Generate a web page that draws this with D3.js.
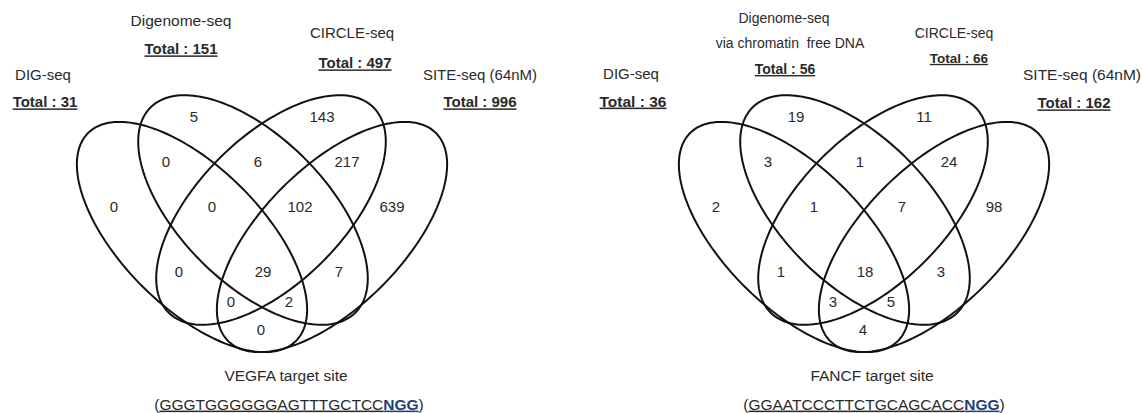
<!DOCTYPE html>
<html>
<head>
<meta charset="utf-8">
<script src="https://cdn.jsdelivr.net/npm/d3@7"></script>
<style>
body { margin: 0; background: #fff; }
svg text { font-family: "Liberation Sans", Arial, sans-serif; fill: #2a2a2a; white-space: pre; }
</style>
</head>
<body>
<svg id="chart" width="1142" height="413"></svg>
<script>
// regions of the 4-set venn, A=DIG-seq, B=Digenome-seq, C=CIRCLE-seq, D=SITE-seq
var regions = ['A', 'B', 'C', 'D', 'AB', 'BC', 'CD', 'ABC', 'BCD', 'AC', 'ABCD', 'BD', 'ACD', 'ABD', 'AD'];

var vegfa_counts = [0, 5, 143, 639, 0, 6, 217, 0, 102, 0, 29, 7, 0, 2, 0];
var fancf_counts = [2, 19, 11, 98, 3, 1, 24, 1, 7, 1, 18, 3, 3, 5, 4];

var vegfa_names = [['DIG-seq'], ['Digenome-seq'], ['CIRCLE-seq'], ['SITE-seq (64nM)']];
var fancf_names = [['DIG-seq'], ['Digenome-seq', 'via chromatin  free DNA'], ['CIRCLE-seq'], ['SITE-seq (64nM)']];

var vegfa_totals = [31, 151, 497, 996];
var fancf_totals = [36, 56, 66, 162];

var vegfa_site = ['VEGFA target site', 'GGGTGGGGGGAGTTTGCTCC', 'NGG'];
var fancf_site = ['FANCF target site', 'GGAATCCCTTCTGCAGCACC', 'NGG'];

// layout (venn units, 1 unit = 200px, origin = diagram centre)
var ellipses = [
	{cx: -0.35, cy: 0.035, a: 0.735, b: 0.35, rot: 45},
	{cx: -0.045, cy: -0.1, a: 0.725, b: 0.365, rot: 45},
	{cx: 0.045, cy: -0.1, a: 0.725, b: 0.365, rot: -45},
	{cx: 0.35, cy: 0.035, a: 0.735, b: 0.35, rot: -45}
];
var label_pos = {
	A: [-0.74, -0.115], B: [-0.34, -0.565], C: [0.30, -0.565], D: [0.65, -0.115],
	AB: [-0.48, -0.34], BC: [-0.02, -0.34], CD: [0.425, -0.34],
	ABC: [-0.25, -0.115], BCD: [0.19, -0.115],
	AC: [-0.415, 0.21], ABCD: [0.005, 0.21], BD: [0.385, 0.21],
	ACD: [-0.155, 0.36], ABD: [0.135, 0.36], AD: [-0.005, 0.50]
};

var svg = d3.select('#chart');

var charts = [
	{
		center: 262, counts: vegfa_counts, names: vegfa_names, totals: vegfa_totals, site: vegfa_site,
		name_pos: [[[-219, 75]], [[-81, 20]], [[90, 33]], [[218, 75]]],
		total_pos: [[-217, 102], [-81, 49], [93, 63], [218, 102]],
		name_size: [15, 15.5, 15, 15], total_size: [15, 15, 15, 15],
		site_dx: [24, 27]
	},
	{
		center: 864, counts: fancf_counts, names: fancf_names, totals: fancf_totals, site: fancf_site,
		name_pos: [[[-233, 74]], [[-80, 18], [-74, 43]], [[90, 33]], [[218, 74]]],
		total_pos: [[-231, 101], [-79, 69], [95, 58], [210, 103]],
		name_size: [15, 14, 14, 15.5], total_size: [15.5, 14, 13.5, 15],
		site_dx: [8, 10]
	}
];

charts.forEach(function(c) {
	var x = d3.scaleLinear().domain([-1, 1]).range([c.center - 200, c.center + 200]);
	var y = d3.scaleLinear().domain([-1, 1]).range([30, 430]);

	var g = svg.append('g');

	var line = d3.line()
		.x(function(p) { return x(p[0]); })
		.y(function(p) { return y(p[1]); })
		.curve(d3.curveLinearClosed);

	ellipses.forEach(function(e) {
		var th = e.rot * Math.PI / 180;
		var pts = d3.range(0, 360, 2).map(function(deg) {
			var t = deg * Math.PI / 180;
			return [
				e.cx + e.a * Math.cos(t) * Math.cos(th) - e.b * Math.sin(t) * Math.sin(th),
				e.cy + e.a * Math.cos(t) * Math.sin(th) + e.b * Math.sin(t) * Math.cos(th)
			];
		});
		g.append('path')
			.attr('d', line(pts))
			.attr('fill', 'none')
			.attr('stroke', '#111')
			.attr('stroke-width', 2);
	});

	//region counts
	g.selectAll('text.count')
		.data(regions)
		.enter()
		.append('text')
		.attr('class', 'count')
		.attr('x', function(r) { return x(label_pos[r][0]); })
		.attr('y', function(r) { return y(label_pos[r][1]); })
		.attr('dy', '0.36em')
		.attr('text-anchor', 'middle')
		.style('font-size', '15px')
		.text(function(r, i) { return c.counts[i]; });

	//set names and totals
	c.names.forEach(function(lines, i) {
		lines.forEach(function(s, j) {
			g.append('text')
				.attr('x', c.center + c.name_pos[i][j][0])
				.attr('y', c.name_pos[i][j][1])
				.attr('dy', '0.36em')
				.attr('text-anchor', 'middle')
				.style('font-size', c.name_size[i] + 'px')
				.text(s);
		});
		g.append('text')
			.attr('x', c.center + c.total_pos[i][0])
			.attr('y', c.total_pos[i][1])
			.attr('dy', '0.36em')
			.attr('text-anchor', 'middle')
			.style('font-size', c.total_size[i] + 'px')
			.style('font-weight', 'bold')
			.style('text-decoration', 'underline')
			.text('Total : ' + c.totals[i]);
	});

	//target site
	g.append('text')
		.attr('x', c.center + c.site_dx[0])
		.attr('y', 375)
		.attr('dy', '0.36em')
		.attr('text-anchor', 'middle')
		.style('font-size', '15.5px')
		.text(c.site[0]);

	var seq = g.append('text')
		.attr('x', c.center + c.site_dx[1])
		.attr('y', 404)
		.attr('dy', '0.36em')
		.attr('text-anchor', 'middle')
		.style('font-size', '15.5px');
	seq.append('tspan').text('(');
	seq.append('tspan').style('text-decoration', 'underline').text(c.site[1]);
	seq.append('tspan')
		.style('text-decoration', 'underline')
		.style('font-weight', 'bold')
		.style('fill', '#1f3f77')
		.text(c.site[2]);
	seq.append('tspan').text(')');
});
</script>
</body>
</html>
